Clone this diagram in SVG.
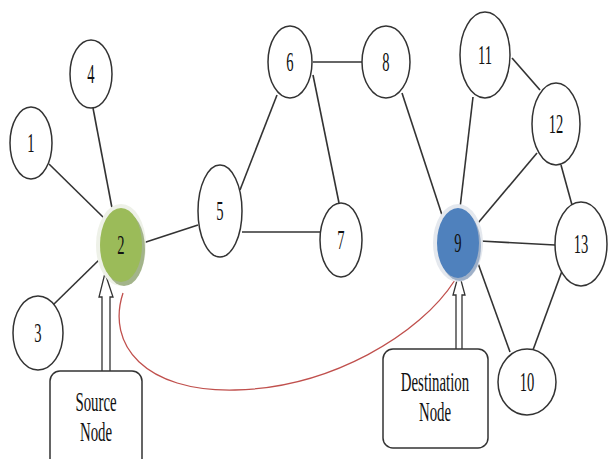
<svg xmlns="http://www.w3.org/2000/svg" width="608" height="459" viewBox="0 0 608 459">
<style>
.n{fill:#fff;stroke:#333;stroke-width:1.5}
.e{stroke:#333;stroke-width:1.6;fill:none}
.t{font-family:"Liberation Serif","Times New Roman",serif;font-size:27px;fill:#111;text-anchor:middle}
.b{fill:#fff;stroke:#333;stroke-width:1.5}
.ar{fill:#fff;stroke:#333;stroke-width:1.3}
</style>
<rect width="608" height="459" fill="#fff"/>
<g id="connectors">
<line class="e" x1="49" y1="164" x2="104" y2="218"/>
<line class="e" x1="93" y1="108" x2="112" y2="208"/>
<line class="e" x1="53" y1="305" x2="101" y2="258"/>
<line class="e" x1="143" y1="243" x2="198" y2="225"/>
<line class="e" x1="240" y1="190" x2="277" y2="95"/>
<line class="e" x1="313" y1="62" x2="362" y2="62"/>
<line class="e" x1="313" y1="75" x2="339" y2="203"/>
<line class="e" x1="242" y1="232" x2="320" y2="232"/>
<line class="e" x1="402" y1="93" x2="443" y2="218"/>
<line class="e" x1="473" y1="97" x2="460" y2="208"/>
<line class="e" x1="537" y1="153" x2="478" y2="223"/>
<line class="e" x1="512" y1="58" x2="540" y2="90"/>
<line class="e" x1="561" y1="165" x2="572" y2="205"/>
<line class="e" x1="480" y1="241" x2="555" y2="245"/>
<line class="e" x1="475" y1="255" x2="510" y2="352"/>
<line class="e" x1="562" y1="271" x2="533" y2="350"/>
<path d="M123,293 C106,345 145,392 235,390 C330,388 420,335 455,280" fill="none" stroke="#c0504d" stroke-width="1.3"/>
<path class="ar" d="M105,273 L113,297 L110,297 L110,372 L102,372 L102,297 L99,297 Z"/>
<path class="ar" d="M459,273 L465,295 L462,295 L462,352 L456,352 L456,295 L453,295 Z"/>
</g>
<g id="node1"><ellipse class="n" cx="31" cy="143" rx="21" ry="36"/><text class="t" transform="translate(31,152) scale(0.54,1)">1</text></g>
<g id="node4"><ellipse class="n" cx="91" cy="74" rx="21" ry="34"/><text class="t" transform="translate(91,83) scale(0.54,1)">4</text></g>
<g id="node3"><ellipse class="n" cx="38" cy="333" rx="25" ry="37"/><text class="t" transform="translate(38,342) scale(0.54,1)">3</text></g>
<g id="node2">
<ellipse cx="121" cy="245" rx="25" ry="41" fill="#eef1e8"/>
<ellipse cx="124" cy="249" rx="21" ry="37" fill="#a3b48a"/>
<ellipse cx="121" cy="245" rx="21" ry="37" fill="#9bbb59"/>
<text class="t" transform="translate(121,254) scale(0.54,1)">2</text></g>
<g id="node5"><ellipse class="n" cx="220" cy="211" rx="22" ry="46"/><text class="t" transform="translate(220,220) scale(0.54,1)">5</text></g>
<g id="node6"><ellipse class="n" cx="290" cy="62" rx="22" ry="36"/><text class="t" transform="translate(290,71) scale(0.54,1)">6</text></g>
<g id="node8"><ellipse class="n" cx="386" cy="62" rx="24" ry="36"/><text class="t" transform="translate(386,71) scale(0.54,1)">8</text></g>
<g id="node7"><ellipse class="n" cx="341" cy="240" rx="21" ry="37"/><text class="t" transform="translate(341,249) scale(0.54,1)">7</text></g>
<g id="node9">
<ellipse cx="458" cy="243" rx="25" ry="39" fill="#e4e8ee"/>
<ellipse cx="460" cy="246" rx="21" ry="35" fill="#9fb0c8"/>
<ellipse cx="458" cy="243" rx="21" ry="35" fill="#4f81bd"/>
<text class="t" transform="translate(458,252) scale(0.54,1)">9</text></g>
<g id="node11"><ellipse class="n" cx="485" cy="55" rx="25" ry="43"/><text class="t" transform="translate(485,64) scale(0.54,1)">11</text></g>
<g id="node12"><ellipse class="n" cx="556" cy="124" rx="24" ry="41"/><text class="t" transform="translate(556,133) scale(0.54,1)">12</text></g>
<g id="node13"><ellipse class="n" cx="581" cy="244" rx="26" ry="42"/><text class="t" transform="translate(581,253) scale(0.54,1)">13</text></g>
<g id="node10"><ellipse class="n" cx="527" cy="382" rx="29" ry="33"/><text class="t" transform="translate(527,391) scale(0.54,1)">10</text></g>
<g id="source">
<rect class="b" x="50" y="371" width="92" height="110" rx="10"/>
<text class="t" transform="translate(96,411) scale(0.55,1)">Source</text>
<text class="t" transform="translate(96,441) scale(0.55,1)">Node</text>
</g>
<g id="destination">
<rect class="b" x="383" y="349" width="105" height="99" rx="10"/>
<text class="t" transform="translate(435,391) scale(0.55,1)">Destination</text>
<text class="t" transform="translate(435,421) scale(0.55,1)">Node</text>
</g>
</svg>
